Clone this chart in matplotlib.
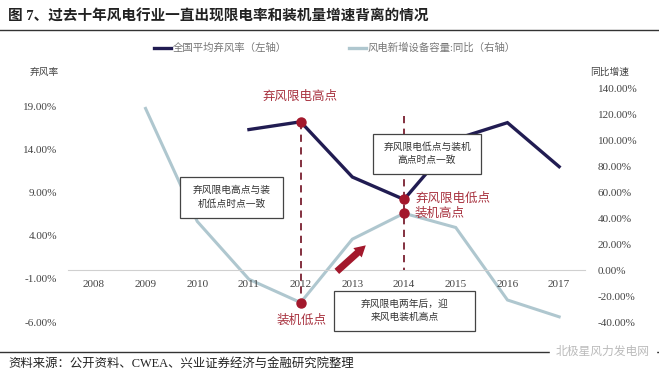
import matplotlib
matplotlib.use('Agg')
import matplotlib.pyplot as plt
from matplotlib.patches import Rectangle
from matplotlib.lines import Line2D

# data
years = ['2008', '2009', '2010', '2011', '2012', '2013', '2014', '2015', '2016', '2017']
curtail = [None, None, None, 16.3, 17.2, 10.8, 8.2, 15.2, 17.1, 12.0]      # 弃风率 %, left axis
install_yoy = [None, 125.0, 37.7, -7.0, -25.0, 24.0, 44.0, 33.0, -23.0, -36.0]  # 同比 %, right axis
left_ticks = [-6, -1, 4, 9, 14, 19]
right_ticks = [-40, -20, 0, 20, 40, 60, 80, 100, 120, 140]

NAVY = '#211C52'
LIGHT = '#AFC7CF'
RED = '#A3182C'
RED_TXT = '#A8323F'
W, H = 659, 381

plt.rcParams['font.family'] = ['Liberation Serif', 'Noto Sans CJK SC', 'DejaVu Sans']


def fx(px):
    return px / W


def fy(py):
    return 1 - py / H


fig = plt.figure(figsize=(W / 100, H / 100), dpi=100)
fig.patch.set_facecolor('white')
ax = fig.add_axes([fx(68), fy(322), fx(585) - fx(68), fy(89) - fy(322)])
ax2 = ax.twinx()

x = list(range(len(years)))
ratio = 140 / 21
ax.set_xlim(-0.5, len(years) - 0.5)
ax.set_ylim(-6, 21)
ax2.set_ylim(-40, 140)

cx = [i for i, v in zip(x, curtail) if v is not None]
cy = [v for v in curtail if v is not None]
ix = [i for i, v in zip(x, install_yoy) if v is not None]
iy = [v for v in install_yoy if v is not None]

ax2.plot(ix, iy, color=LIGHT, lw=2.2, solid_joinstyle='miter', zorder=2)
ax.plot(cx, cy, color=NAVY, lw=2.4, solid_joinstyle='miter', zorder=4)
ax.set_zorder(ax2.get_zorder() + 1)
ax.patch.set_visible(False)

# highlighted points and dashed guides
i12, i14 = years.index('2012'), years.index('2014')
ax.plot([i12, i12], [curtail[i12], install_yoy[i12] / ratio], ls=(0, (4, 3)),
        color='#7A2030', lw=1.3, zorder=3)
ax.plot([i14, i14], [17.9, 0], ls=(0, (4, 3)), color='#7A2030', lw=1.3, zorder=3)
for i in (i12, i14):
    ax.plot(i, curtail[i], 'o', color=RED, ms=6.5, zorder=6)
    ax.plot(i, install_yoy[i] / ratio, 'o', color=RED, ms=6.5, zorder=6)

ax.annotate('', xy=(5.3, 3.1), xytext=(4.66, -0.35),
            arrowprops=dict(arrowstyle='simple,head_width=0.9,head_length=0.8,tail_width=0.5',
                            color=RED, lw=0), zorder=5)

# axes styling
for s in ['top', 'right', 'left']:
    ax.spines[s].set_visible(False)
    ax2.spines[s].set_visible(False)
ax2.spines['bottom'].set_visible(False)
ax.spines['bottom'].set_position(('data', 0))
ax.spines['bottom'].set_color('#D0D0D0')
ax.set_xticks(x)
ax.set_xticklabels(years)
ax.set_yticks(left_ticks)
ax.set_yticklabels([f'{v:.2f}%' for v in left_ticks])
ax2.set_yticks(right_ticks)
ax2.set_yticklabels([f'{v:.2f}%' for v in right_ticks])
ax.tick_params(axis='x', length=0, pad=7, labelsize=8, colors='#444')
ax.tick_params(axis='y', length=0, pad=8, labelsize=8, colors='#444')
ax2.tick_params(axis='y', length=0, pad=9, labelsize=8, colors='#444')

# legend
handles = [Line2D([], [], color=NAVY, lw=2.4), Line2D([], [], color=LIGHT, lw=2.4)]
fig.legend(handles, ['全国平均弃风率（左轴）', '风电新增设备容量:同比（右轴）'],
           loc='center', bbox_to_anchor=(fx(335), fy(48)), ncol=2, frameon=False,
           fontsize=7.5, handlelength=1.6, handletextpad=0.2, columnspacing=6,
           labelcolor='#777')

# title, axis captions, footer
fig.text(fx(8), fy(17), '图 7、过去十年风电行业一直出现限电率和装机量增速背离的情况',
         fontsize=10.5, fontweight='bold', va='center', ha='left', color='#222')
fig.add_artist(Line2D([0, 1], [fy(30), fy(30)], color='#333', lw=1.0))
fig.text(fx(44), fy(72), '弃风率', fontsize=7, ha='center', va='center', color='#444')
fig.text(fx(610), fy(72), '同比增速', fontsize=7, ha='center', va='center', color='#444')
fig.add_artist(Line2D([0, 1], [fy(352), fy(352)], color='#333', lw=1.0))
fig.text(fx(8), fy(365), '资料来源：公开资料、CWEA、兴业证券经济与金融研究院整理',
         fontsize=8.9, va='center', ha='left', color='#222')
fig.text(fx(650), fy(352), '北极星风力发电网', fontsize=8.5, va='center', ha='right',
         color='#BBBBBB', backgroundcolor='white')

# annotation texts
fig.text(fx(300), fy(97), '弃风限电高点', fontsize=9, color=RED_TXT, ha='center', va='center')
fig.text(fx(415), fy(199), '弃风限电低点', fontsize=9, color=RED_TXT, ha='left', va='center')
fig.text(fx(415), fy(214), '装机高点', fontsize=9, color=RED_TXT, ha='left', va='center')
fig.text(fx(302), fy(321), '装机低点', fontsize=9, color=RED_TXT, ha='center', va='center')

boxes = [
    ((180, 177, 283, 218), '弃风限电高点与装\n机低点时点一致'),
    ((373, 134, 481, 174), '弃风限电低点与装机\n高点时点一致'),
    ((334, 291, 475, 331), '弃风限电两年后，迎\n来风电装机高点'),
]
for (x0, y0, x1, y1), txt in boxes:
    fig.add_artist(Rectangle((fx(x0), fy(y1)), fx(x1) - fx(x0), fy(y0) - fy(y1),
                             facecolor='white', edgecolor='#444', lw=0.9, zorder=10))
    fig.text(fx((x0 + x1) / 2), fy((y0 + y1) / 2), txt, fontsize=7, ha='center',
             va='center', color='#333', linespacing=1.5, zorder=11)

fig.savefig('out.png', dpi=100, facecolor='white')
